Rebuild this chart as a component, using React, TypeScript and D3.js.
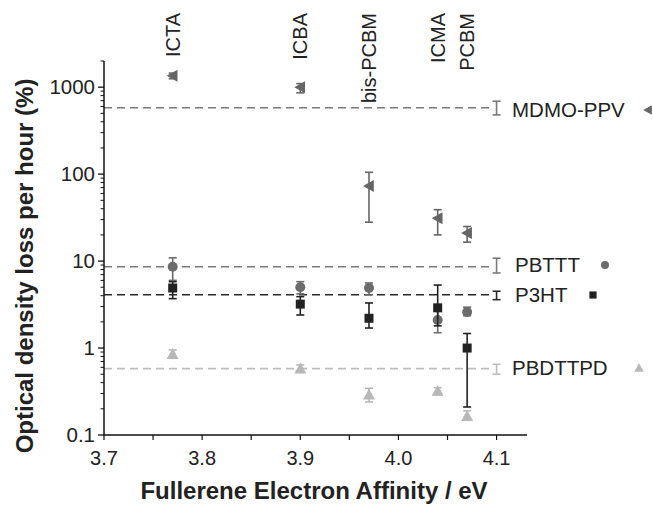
import React, { useEffect, useRef } from 'react';
import * as d3 from 'd3';

// fullerenes along the top
const fullerenes = ['ICTA', 'ICBA', 'bis-PCBM', 'ICMA', 'PCBM'];
const affinity = [3.77, 3.9, 3.97, 4.04, 4.07];

// per polymer: value, lower and upper error bound
const mdmoVal = [1350, 1000, 73, 31, 21];
const mdmoLo = [1250, 860, 28, 20, 16.5];
const mdmoHi = [1450, 1100, 105, 39, 25];

const pbtttVal = [8.6, 5.0, 4.9, 2.1, 2.6];
const pbtttLo = [6.0, 4.2, 4.1, 1.5, 2.35];
const pbtttHi = [10.9, 5.8, 5.6, 2.7, 2.95];

const p3htVal = [4.9, 3.2, 2.2, 2.9, 1.0];
const p3htLo = [3.7, 2.4, 1.7, 1.8, 0.21];
const p3htHi = [5.8, 3.9, 3.3, 5.3, 1.47];

const pbdVal = [0.85, 0.58, 0.29, 0.32, 0.165];
const pbdLo = [0.78, 0.53, 0.24, 0.29, 0.15];
const pbdHi = [0.95, 0.64, 0.345, 0.35, 0.19];

// average of each polymer (dashed line) with its error, drawn at 4.1 eV
const polymers = ['MDMO-PPV', 'PBTTT', 'P3HT', 'PBDTTPD'];
const avgVal = [580, 8.6, 4.1, 0.58];
const avgLo = [480, 7.3, 3.6, 0.5];
const avgHi = [690, 10.8, 4.5, 0.65];
const avgX = 4.1;

const yTicks = [0.1, 1, 10, 100, 1000];
const xTicks = [3.7, 3.8, 3.9, 4.0, 4.1];

const App = () => {
  const svgRef = useRef(null);

  useEffect(() => {
    document.body.style.margin = '0';
    const svg = d3.select(svgRef.current);
    svg.selectAll('*').remove();

    const font = 'Liberation Sans, Arial, Helvetica, sans-serif';
    const x = d3.scaleLinear().domain([3.7, 4.131]).range([104, 527]);
    const y = d3.scaleLog().domain([0.1, 2000]).range([435, 61]);

    const series = [
      { name: 'MDMO-PPV', val: mdmoVal, lo: mdmoLo, hi: mdmoHi, color: '#666666', line: '#7a7a7a', shape: 'left' },
      { name: 'PBTTT', val: pbtttVal, lo: pbtttLo, hi: pbtttHi, color: '#6c6c6c', line: '#7a7a7a', shape: 'circle' },
      { name: 'P3HT', val: p3htVal, lo: p3htLo, hi: p3htHi, color: '#222222', line: '#2a2a2a', shape: 'square' },
      { name: 'PBDTTPD', val: pbdVal, lo: pbdLo, hi: pbdHi, color: '#b8b8b8', line: '#bdbdbd', shape: 'up' },
    ];

    const marker = (g, shape, cx, cy, color, s = 1) => {
      if (shape === 'circle') {
        g.append('circle').attr('cx', cx).attr('cy', cy).attr('r', 5 * s).attr('fill', color);
      } else if (shape === 'square') {
        g.append('rect').attr('x', cx - 4.5 * s).attr('y', cy - 4.5 * s)
          .attr('width', 9 * s).attr('height', 9 * s).attr('fill', color);
      } else if (shape === 'up') {
        const r = 6 * s;
        g.append('path').attr('d', `M${cx},${cy - r}L${cx + r},${cy + r * 0.8}L${cx - r},${cy + r * 0.8}Z`).attr('fill', color);
      } else {
        const r = 6 * s;
        g.append('path').attr('d', `M${cx - r},${cy}L${cx + r * 0.8},${cy - r}L${cx + r * 0.8},${cy + r}Z`).attr('fill', color);
      }
    };

    const errBar = (g, cx, lo, hi, color) => {
      g.append('line').attr('x1', cx).attr('x2', cx).attr('y1', y(lo)).attr('y2', y(hi))
        .attr('stroke', color).attr('stroke-width', 1.6);
      [lo, hi].forEach(v => {
        g.append('line').attr('x1', cx - 4).attr('x2', cx + 4).attr('y1', y(v)).attr('y2', y(v))
          .attr('stroke', color).attr('stroke-width', 1.6);
      });
    };

    // dashed average lines + their error bars
    series.forEach((s, i) => {
      svg.append('line')
        .attr('x1', x(3.7)).attr('x2', x(avgX) - 7)
        .attr('y1', y(avgVal[i])).attr('y2', y(avgVal[i]))
        .attr('stroke', s.line).attr('stroke-width', 1.6)
        .attr('stroke-dasharray', '8,5');
      errBar(svg, x(avgX), avgLo[i], avgHi[i], s.line);
    });

    // data points
    series.forEach(s => {
      const g = svg.append('g');
      affinity.forEach((a, i) => {
        errBar(g, x(a), s.lo[i], s.hi[i], s.color);
        marker(g, s.shape, x(a), y(s.val[i]), s.color);
      });
    });

    // axes
    const yAxis = svg.append('g').attr('transform', 'translate(104,0)');
    yAxis.append('line').attr('x1', 0).attr('x2', 0).attr('y1', 61).attr('y2', 435)
      .attr('stroke', '#111').attr('stroke-width', 1.5);
    const minor = [];
    for (let d = 0.1; d < 2000; d *= 10) {
      for (let k = 2; k <= 9; k++) if (d * k <= 2000) minor.push(d * k);
    }
    minor.forEach(v => {
      yAxis.append('line').attr('x1', -3.5).attr('x2', 0).attr('y1', y(v)).attr('y2', y(v))
        .attr('stroke', '#111').attr('stroke-width', 1);
    });
    yTicks.forEach(v => {
      yAxis.append('line').attr('x1', -6).attr('x2', 0).attr('y1', y(v)).attr('y2', y(v))
        .attr('stroke', '#111').attr('stroke-width', 1.3);
      yAxis.append('text').attr('x', -9).attr('y', y(v)).attr('dy', '0.35em')
        .attr('text-anchor', 'end').style('font-family', font).style('font-size', '20.5px')
        .attr('fill', '#222').text(String(v));
    });

    const xAxis = svg.append('g').attr('transform', 'translate(0,435)');
    xAxis.append('line').attr('x1', 104).attr('x2', 527).attr('y1', 0).attr('y2', 0)
      .attr('stroke', '#111').attr('stroke-width', 1.5);
    d3.range(3.7, 4.131, 0.05).forEach(v => {
      xAxis.append('line').attr('x1', x(v)).attr('x2', x(v)).attr('y1', 0).attr('y2', 5)
        .attr('stroke', '#111').attr('stroke-width', 1.2);
    });
    xTicks.forEach(v => {
      xAxis.append('text').attr('x', x(v)).attr('y', 30)
        .attr('text-anchor', 'middle').style('font-family', font).style('font-size', '20px')
        .attr('fill', '#222').text(v.toFixed(1));
    });

    // axis titles
    svg.append('text')
      .attr('x', 314).attr('y', 499)
      .attr('text-anchor', 'middle')
      .style('font-family', font).style('font-size', '24px').style('font-weight', 'bold')
      .attr('fill', '#222')
      .text('Fullerene Electron Affinity / eV');

    svg.append('text')
      .attr('transform', 'translate(25,266) rotate(-90)')
      .attr('dy', '0.35em')
      .attr('text-anchor', 'middle')
      .style('font-family', font).style('font-size', '24px').style('font-weight', 'bold')
      .attr('fill', '#222')
      .text('Optical density loss per hour (%)');

    // fullerene labels at top
    fullerenes.forEach((f, i) => {
      svg.append('text')
        .attr('transform', `translate(${x(affinity[i])},13) rotate(-90)`)
        .attr('dy', '0.35em')
        .attr('text-anchor', 'end')
        .style('font-family', font).style('font-size', '20px')
        .attr('fill', '#222')
        .text(f);
    });

    // legend labels with markers
    const legX = [512, 515, 515, 512];
    const legY = [110, 265, 295, 368];
    const legM = [648, 605, 593, 639];
    series.forEach((s, i) => {
      svg.append('text').attr('x', legX[i]).attr('y', legY[i]).attr('dy', '0.35em')
        .style('font-family', font).style('font-size', '20.5px').attr('fill', '#222')
        .text(polymers[i]);
      marker(svg, s.shape, legM[i], legY[i], s.color, 0.8);
    });
  }, []);

  return (
    <div style={{ position: 'absolute', left: 0, top: 0 }}>
      <svg ref={svgRef} width={653} height={506} style={{ display: 'block', background: '#fff' }}></svg>
    </div>
  );
};

export default App;
